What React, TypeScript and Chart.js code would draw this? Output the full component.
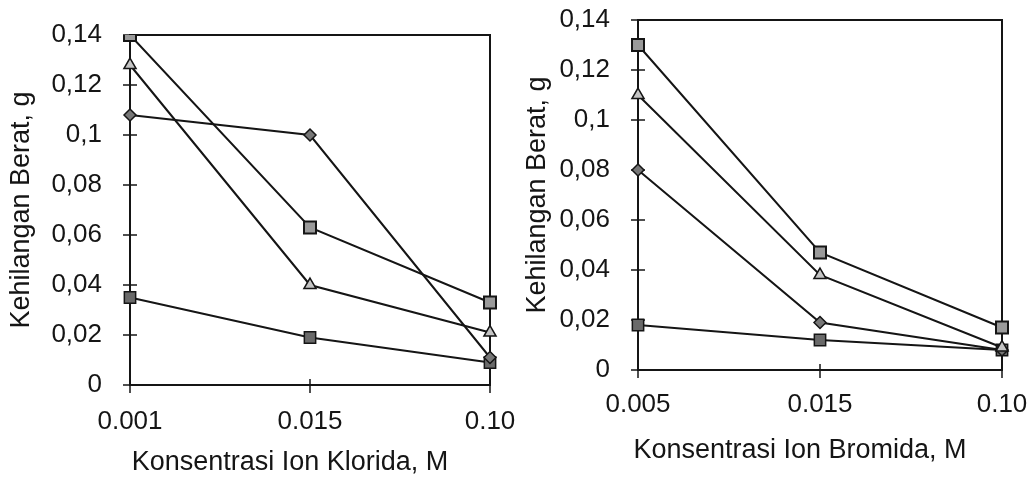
import React, { useEffect, useRef } from 'react';
import { Chart, registerables } from 'chart.js';

Chart.register(...registerables);

// ---------- data ----------
const chlorideCategories = ['0.001', '0.015', '0.10'];
const bromideCategories = ['0.005', '0.015', '0.10'];
const yTickLabels = ['0', '0,02', '0,04', '0,06', '0,08', '0,1', '0,12', '0,14'];

const chlorideSeriesA = [0.14, 0.063, 0.033];
const chlorideSeriesB = [0.128, 0.04, 0.021];
const chlorideSeriesC = [0.108, 0.1, 0.011];
const chlorideSeriesD = [0.035, 0.019, 0.009];

const bromideSeriesA = [0.13, 0.047, 0.017];
const bromideSeriesB = [0.11, 0.038, 0.009];
const bromideSeriesC = [0.08, 0.019, 0.008];
const bromideSeriesD = [0.018, 0.012, 0.008];

const yTitle = 'Kehilangan Berat, g';
const chlorideXTitle = 'Konsentrasi Ion Klorida, M';
const bromideXTitle = 'Konsentrasi Ion Bromida, M';

// ---------- styling ----------
const FONT = "'Liberation Sans', Arial, sans-serif";
const INK = '#151515';
const TICK_SIZE = 26;
const TITLE_SIZE = 27;

const markerStyles = [
  { pointStyle: 'rect', pointRadius: 8.5, backgroundColor: '#9a9a9a', borderWidth: 2 },
  { pointStyle: 'triangle', pointRadius: 7, backgroundColor: '#c4c4c4', borderWidth: 1.5 },
  { pointStyle: 'rectRot', pointRadius: 6, backgroundColor: '#777', borderWidth: 1.5 },
  { pointStyle: 'rect', pointRadius: 8, backgroundColor: '#6a6a6a', borderWidth: 1.5 },
];

type Geo = {
  width: number;
  height: number;
  left: number;
  right: number;
  top: number;
  bottom: number;
  yTitlePad: number;
  xTickPad: number;
  xTitleShift: number;
  xTitleY: number;
};

const frameAndTicks = {
  id: 'frameAndTicks',
  beforeDatasetsDraw(chart: any) {
    const { ctx, chartArea: a, scales } = chart;
    const x = scales.x;
    const y = scales.y;
    ctx.save();
    ctx.strokeStyle = INK;
    ctx.lineWidth = 2;
    ctx.strokeRect(a.left, a.top, a.right - a.left, a.bottom - a.top);
    ctx.lineWidth = 1.5;
    y.ticks.forEach((_t: any, i: number) => {
      const py = y.getPixelForTick(i);
      ctx.beginPath();
      ctx.moveTo(a.left - 7, py);
      ctx.lineTo(a.left + 7, py);
      ctx.stroke();
    });
    x.ticks.forEach((_t: any, i: number) => {
      const px = x.getPixelForTick(i);
      ctx.beginPath();
      ctx.moveTo(px, a.bottom - 6);
      ctx.lineTo(px, a.bottom + 8);
      ctx.stroke();
    });
    ctx.restore();
  },
  afterDraw(chart: any) {
    const o = chart.options.plugins.frameAndTicks;
    if (!o) return;
    const { ctx, chartArea: a } = chart;
    ctx.save();
    ctx.fillStyle = INK;
    ctx.font = `${TITLE_SIZE}px ${FONT}`;
    ctx.textAlign = 'center';
    ctx.textBaseline = 'middle';
    ctx.fillText(o.text, (a.left + a.right) / 2 + o.shift, o.y);
    ctx.restore();
  },
};

function makeChart(canvas: HTMLCanvasElement, categories: string[], series: number[][], xTitle: string, g: Geo) {
  return new Chart(canvas, {
    type: 'line',
    data: {
      labels: categories,
      datasets: series.map((d, i) => ({
        data: d,
        borderColor: INK,
        borderWidth: 2,
        pointBorderColor: INK,
        pointBackgroundColor: markerStyles[i].backgroundColor,
        pointStyle: markerStyles[i].pointStyle as any,
        pointRadius: markerStyles[i].pointRadius,
        pointBorderWidth: markerStyles[i].borderWidth,
        tension: 0,
        fill: false,
      })),
    },
    options: {
      animation: false,
      responsive: false,
      devicePixelRatio: 1,
      layout: { padding: { left: 0, top: g.top, right: g.width - g.right, bottom: 0 } },
      plugins: {
        legend: { display: false },
        tooltip: { enabled: false },
        frameAndTicks: { text: xTitle, shift: g.xTitleShift, y: g.xTitleY },
      } as any,
      scales: {
        x: {
          type: 'category',
          offset: false,
          grid: { display: false, drawTicks: false },
          border: { display: false },
          ticks: {
            color: INK,
            font: { family: FONT, size: TICK_SIZE },
            padding: g.xTickPad,
            maxRotation: 0,
            autoSkip: false,
          },
          afterFit: (s: any) => {
            s.height = g.height - g.bottom;
            s.paddingLeft = 0;
            s.paddingRight = 0;
          },
        },
        y: {
          min: 0,
          max: 0.14,
          grid: { display: false, drawTicks: false },
          border: { display: false },
          ticks: {
            stepSize: 0.02,
            color: INK,
            font: { family: FONT, size: TICK_SIZE },
            padding: 28,
            callback: (v: any) => yTickLabels[Math.round(Number(v) / 0.02)] ?? '',
          },
          title: {
            display: true,
            text: yTitle,
            color: INK,
            font: { family: FONT, size: TITLE_SIZE },
            padding: { top: g.yTitlePad, bottom: 0 },
          },
          afterFit: (s: any) => {
            s.width = g.left;
            s.paddingTop = 0;
            s.paddingBottom = 0;
          },
        },
      },
    },
    plugins: [frameAndTicks],
  } as any);
}

const leftGeo: Geo = {
  width: 520, height: 481, left: 130, right: 490, top: 35, bottom: 385,
  yTitlePad: 5, xTickPad: 21, xTitleShift: -20, xTitleY: 463,
};
const rightGeo: Geo = {
  width: 510, height: 481, left: 118, right: 482, top: 20, bottom: 370,
  yTitlePad: 1, xTickPad: 19, xTitleShift: -20, xTitleY: 451,
};

export default function App() {
  const leftRef = useRef<HTMLCanvasElement>(null);
  const rightRef = useRef<HTMLCanvasElement>(null);

  useEffect(() => {
    const c1 = makeChart(
      leftRef.current!,
      chlorideCategories,
      [chlorideSeriesA, chlorideSeriesB, chlorideSeriesC, chlorideSeriesD],
      chlorideXTitle,
      leftGeo,
    );
    const c2 = makeChart(
      rightRef.current!,
      bromideCategories,
      [bromideSeriesA, bromideSeriesB, bromideSeriesC, bromideSeriesD],
      bromideXTitle,
      rightGeo,
    );
    return () => {
      c1.destroy();
      c2.destroy();
    };
  }, []);

  return (
    <div style={{ position: 'absolute', left: 0, top: 0, width: 1030, height: 481, background: '#fff' }}>
      <canvas
        ref={leftRef}
        width={leftGeo.width}
        height={leftGeo.height}
        style={{ position: 'absolute', left: 0, top: 0, width: leftGeo.width, height: leftGeo.height }}
      />
      <canvas
        ref={rightRef}
        width={rightGeo.width}
        height={rightGeo.height}
        style={{ position: 'absolute', left: 520, top: 0, width: rightGeo.width, height: rightGeo.height }}
      />
    </div>
  );
}
